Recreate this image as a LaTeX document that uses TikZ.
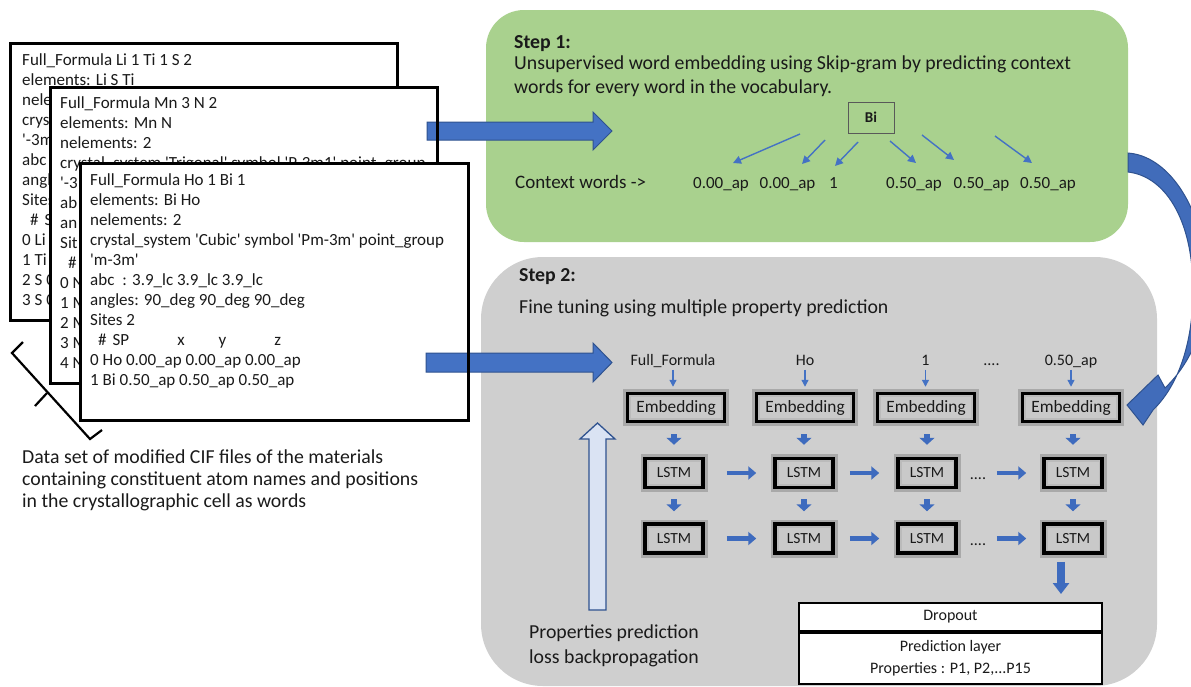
\documentclass[tikz,border=0pt]{standalone}
\usepackage{fontspec}
\setmainfont{Carlito}
\usetikzlibrary{arrows.meta,calc}
\definecolor{oblue}{HTML}{4472C4}
\definecolor{mblue}{HTML}{3E6BBE}
\definecolor{dblue}{HTML}{2F528F}
\definecolor{ogreen}{HTML}{A9D18E}
\definecolor{ogray}{HTML}{CFCFCF}
\definecolor{lblue}{HTML}{DAE3F3}
\definecolor{txt}{HTML}{1A1A1A}
\newcommand{\q}{\textquotesingle}
\begin{document}
\begin{tikzpicture}[x=1pt,y=-1pt,
  every node/.style={text=txt},
  cif/.style={font=\fontsize{17}{20}\selectfont, anchor=base west, inner sep=0pt},
  lbl/.style={font=\fontsize{19.8}{22}\selectfont, anchor=base west, inner sep=0pt},
  tok/.style={font=\fontsize{16}{18}\selectfont, anchor=base, inner sep=0pt},
  cifbox/.style={draw=black, line width=3pt, fill=white},
  blockarr/.style={fill=oblue, draw=dblue, line width=1pt},
  nnbox/.style={draw=black, line width=3.5pt, fill=gray!42, inner sep=0pt,
     preaction={draw=black, opacity=0.18, line width=9pt},
     path picture={\draw[line width=7pt, black!30, opacity=0.6]
        (path picture bounding box.south west) rectangle (path picture bounding box.north east);}},
  embbox/.style={nnbox, minimum width=97pt, minimum height=28pt, font=\fontsize{17.3}{19}\selectfont},
  lstmbox/.style={nnbox, minimum width=58pt, minimum height=29pt, font=\fontsize{15.5}{17}\selectfont},
  thinarr/.style={draw=oblue, line width=1.4pt, -{Triangle[width=8pt,length=8pt]}},
  downarr/.style={draw=mblue, line width=6pt, -{Triangle[width=15pt,length=7pt]}},
  harr/.style={draw=mblue, line width=4.5pt, -{Triangle[width=13pt,length=8pt]}},
  outbox/.style={draw=black, line width=2pt, fill=white, inner sep=0pt, minimum width=303pt, align=center, font=\fontsize{16}{22}\selectfont}
]
\useasboundingbox (0,0) rectangle (1191,686);
\clip (0,0) rectangle (1191,686);

% ---------- backgrounds ----------
\fill[ogreen, rounded corners=38pt] (486,10) rectangle (1128,242);
\fill[ogray, rounded corners=62pt] (481,257) rectangle (1157,686);

% ---------- CIF file 1 ----------
\draw[cifbox] (10,43) rectangle (397,320);
\foreach \t [count=\i] in {
  Full\_Formula Li 1 Ti 1 S 2,
  elements: Li S Ti,
  nele,
  crys,
  \q-3m,
  abc,
  angl,
  Sites,
  \hspace*{8pt}\#\hspace{6pt}S,
  0 Li,
  1 Ti,
  2 S 0,
  3 S 0}
  \node[cif] (fa\i) at (22,{65.5+20*\i-20}) {\t};

% ---------- CIF file 2 ----------
\fill[white] (50,87) rectangle (437,383);
\foreach \t [count=\i] in {
  Full\_Formula Mn 3 N 2,
  elements: Mn N,
  nelements: 2,
  crystal\_system \q Trigonal\q{} symbol \q P-3m1\q{} point\_group,
  \q-3,
  ab,
  an,
  Sit,
  \hspace*{8pt}\#,
  0 N,
  1 M,
  2 M,
  3 M,
  4 N}
  \node[cif] (fb\i) at (60,{108.5+20*\i-20}) {\t};
\coordinate (a1s) at (427,131);
\coordinate (a1t) at (612,131);
\draw[blockarr] (a1s) ++(0,-9) -- ++(166,0) -- ++(0,-10) -- (a1t) -- ++(-19,19) -- ++(0,-10) -- ++(-166,0) -- cycle;
\draw[line width=3pt] (50,87) rectangle (437,383);

% ---------- CIF file 3 ----------
\fill[white] (80,163) rectangle (468,420);
\foreach \t [count=\i] in {
  Full\_Formula Ho 1 Bi 1,
  elements: Bi Ho,
  nelements: 2,
  crystal\_system \q Cubic\q{} symbol \q Pm-3m\q{} point\_group,
  \q m-3m\q,
  abc\hspace{8pt}: 3.9\_lc 3.9\_lc 3.9\_lc,
  angles: 90\_deg 90\_deg 90\_deg,
  Sites 2,
  \hspace*{8pt}\#\hspace{6pt}SP\hspace{48pt}x\hspace{34pt}y\hspace{48pt}z,
  0 Ho 0.00\_ap 0.00\_ap 0.00\_ap,
  1 Bi 0.50\_ap 0.50\_ap 0.50\_ap}
  \node[cif] (fc\i) at (90,{185.5+20*\i-20}) {\t};
\coordinate (a2s) at (426,362.5);
\coordinate (a2t) at (612,362.5);
\draw[blockarr] (a2s) ++(0,-9.5) -- ++(167,0) -- ++(0,-10) -- (a2t) -- ++(-19,19.5) -- ++(0,-10) -- ++(-167,0) -- cycle;
\draw[line width=3pt] (80,163) rectangle (468,420);

% bracket
\draw[line width=2.2pt, line join=miter] (23,342) -- (12,353) -- (90,439) -- (102,430);
\draw[line width=2.2pt] (47,393) -- (35,406);

\node[lbl] (ds1) at (22,463) {Data set of modified CIF files of the materials};
\node[lbl] (ds2) at (22,485) {containing constituent atom names and positions};
\node[lbl] (ds3) at (22,507) {in the crystallographic cell as words};

% ---------- Step 1 ----------
\node[lbl] (st1) at (514,48) {\textbf{Step 1:}};
\node[lbl] (st1a) at (514,69.5) {Unsupervised word embedding using Skip-gram by predicting context};
\node[lbl] (st1b) at (514,93) {words for every word in the vocabulary.};
\node[draw=black!65, line width=0.8pt, minimum width=46pt, minimum height=31pt, inner sep=0pt,
      font=\bfseries\fontsize{15}{17}\selectfont] (bi) at (871,117.5) {Bi};
\node[lbl, font=\fontsize{19}{21}\selectfont] (cw) at (515,188) {Context words ->};
\foreach \t/\x [count=\i] in {0.00\_ap/721, 0.00\_ap/787.5, 1/833.5, 0.50\_ap/914, 0.50\_ap/981.5, 0.50\_ap/1048}
  \node[tok, font=\fontsize{17}{19}\selectfont] (c\i) at (\x,188) {\t};
\foreach \sx/\sy/\ex/\ey [count=\i] in {800/134/733/163, 825/140/802/164, 858/142/835/166, 890/141/916/163, 922/135/954/160, 995/136/1032/163}{
  \coordinate (s\i) at (\sx,\sy);
  \coordinate (e\i) at (\ex,\ey);
  \draw[thinarr] (s\i) -- (e\i);
}

% ---------- Step 2 ----------
\node[lbl] (st2) at (519,281) {\textbf{Step 2:}};
\node[lbl] (st2a) at (519,313) {Fine tuning using multiple property prediction};

\foreach \t/\x [count=\i] in {Full\_Formula/673, Ho/805, 1/925.5, 0.50\_ap/1071}
  \node[tok] (tk\i) at (\x,365.5) {\t};
\node[tok] (tkd) at (991.5,365.5) {....};

\foreach \x [count=\i] in {676,805,926,1071}{
  \node[embbox] (emb\i) at (\x,407.5) {Embedding};
}
\foreach \x [count=\i] in {674,804,927,1073}{
  \node[lstmbox] (la\i) at (\x,473) {LSTM};
  \node[lstmbox] (lb\i) at (\x,538.5) {LSTM};
}
\foreach \i in {1,...,4}{
  \draw[thinarr, -{Triangle[width=7pt,length=7pt]}, shorten >=5pt] ($(tk\i.base)+(0,4)$) -- (tk\i.base |- emb\i.north);
  \draw[downarr, shorten <=11pt, shorten >=12pt] (emb\i.south -| la\i.south) -- (la\i.north);
  \draw[downarr, shorten <=10pt, shorten >=11pt] (la\i.south) -- (lb\i.north);
}
\foreach \r in {a,b}{
  \draw[harr, shorten <=22pt, shorten >=17pt] (l\r1.east) -- (l\r2.west);
  \draw[harr, shorten <=15pt, shorten >=17pt] (l\r2.east) -- (l\r3.west);
  \draw[harr, shorten <=39pt, shorten >=16pt] (l\r3.east) -- (l\r4.west);
}
\node[tok] (da) at (978,479.5) {....};
\node[tok] (db) at (978,545) {....};

% output layers
\node[outbox, minimum height=28pt] (drop) at (950.5,617) {Dropout};
\node[outbox, minimum height=51pt] (pred) at (950.5,658.5) {Prediction layer\\Properties : P1, P2,...P15};
\coordinate (dst) at ($(lb4.south)+(-12,0)$);
\draw[draw=mblue, line width=8pt, -{Triangle[width=16pt,length=11pt]}, shorten <=7pt, shorten >=8pt] (dst) -- (dst |- drop.north);

% backpropagation arrow
\draw[fill=lblue, draw=dblue, line width=1.3pt, line join=miter] (589,610) -- (589,439) -- (580,439) -- (597.5,423) -- (615,439) -- (606,439) -- (606,610) -- cycle;
\node[tok, font=\fontsize{19.8}{22}\selectfont] (pp1) at (614,638) {Properties prediction};
\node[tok, font=\fontsize{19.8}{22}\selectfont] (pp2) at (614,663) {loss backpropagation};

% curved arrow from step 1 to embedding
\draw[blockarr, fill=oblue!95!black] (1128,153) .. controls (1168,156) and (1200,205) .. (1206,265)
   .. controls (1211,320) and (1192,362) .. (1165,388)
   -- (1158,375) -- (1127,405) -- (1143,425) -- (1153,410)
   .. controls (1182,382) and (1197,330) .. (1192,268)
   .. controls (1187,212) and (1162,176) .. (1128,172) -- cycle;
\end{tikzpicture}
\end{document}
